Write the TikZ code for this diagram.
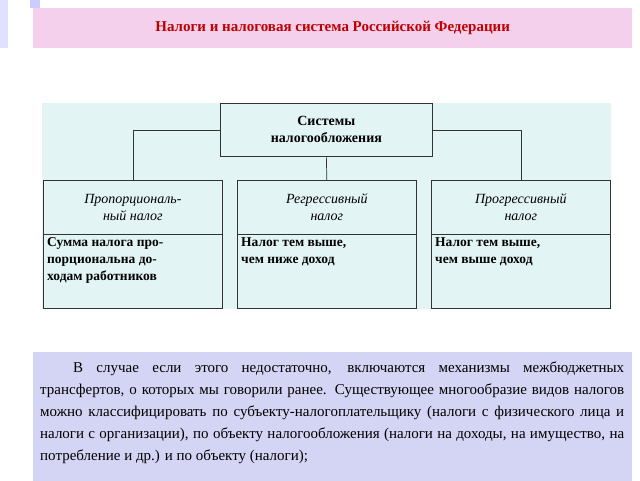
\documentclass[tikz,border=0pt]{standalone}
\usepackage{fontspec}
\setmainfont{Liberation Serif}
\definecolor{pinkbg}{RGB}{244,208,236}
\definecolor{titlered}{RGB}{190,0,0}
\definecolor{cyanbg}{RGB}{226,244,244}
\definecolor{lavbg}{RGB}{212,212,244}
\begin{document}
\begin{tikzpicture}[x=1pt,y=-1pt,
 bx/.style={draw=black!80,line width=0.7pt,fill=cyanbg},
 ln/.style={draw=black!80,line width=0.7pt}]
\useasboundingbox (0,0) rectangle (640,480);
\begin{scope}
\clip (0,0) rectangle (640,480);
\fill[blue!12] (0,0) rectangle (8,48);
\fill[blue!20] (30,0) rectangle (40,8);
\node[fill=pinkbg,minimum width=599pt,minimum height=40pt,anchor=north west,inner sep=0] (title) at (33,8) {};
\node[text=titlered,font=\bfseries\fontsize{15}{17}\selectfont] (tt) at (title.center) {Налоги и налоговая система Российской Федерации};
\fill[cyanbg] (42,103) rectangle (611,309);
\node[bx,minimum width=212pt,minimum height=53pt,anchor=north west,align=center,font=\bfseries\fontsize{14}{17}\selectfont] (top) at (220,103) {Системы\\налогообложения};
\foreach \n/\x/\t/\b in {a/43/{Пропорциональ-\\ный налог}/{Сумма налога про-\\порциональна до-\\ходам работников},
 b/237/{Регрессивный\\налог}/{Налог тем выше,\\чем ниже доход},
 c/431/{Прогрессивный\\налог}/{Налог тем выше,\\чем выше доход}}{
 \node[bx,minimum width=179pt,minimum height=54pt,anchor=north west,align=center,font=\itshape\fontsize{14}{17}\selectfont] (\n h) at (\x,180) {\t};
 \node[bx,minimum width=179pt,minimum height=74pt,anchor=north west] (\n b) at (\x,234) {};
 \node[anchor=north west,align=left,font=\bfseries\fontsize{13.5}{17}\selectfont,inner sep=0] (\n t) at (\x+4,237) {\b};
}
\draw[ln] (top.south) -- (bh.north);
\draw[ln] (top.west) -| (ah.north);
\draw[ln] (top.east) -| (ch.north);
\node[fill=lavbg,minimum width=599pt,minimum height=140pt,anchor=north west] (txtbg) at (33,352) {};
\node[anchor=north west,text width=584pt,align=justify,inner sep=0,font=\fontsize{15}{22}\selectfont] (txt) at (40,362) {\hspace*{2.2em}В случае если этого недостаточно, включаются механизмы межбюджетных трансфертов, о которых мы говорили ранее. Существующее многообразие видов налогов можно классифицировать по субъекту-налогоплательщику (налоги с физического лица и налоги с организации), по объекту налогообложения (налоги на доходы, на имущество, на потребление и др.) и по объекту (налоги);};
\end{scope}
\end{tikzpicture}
\end{document}
